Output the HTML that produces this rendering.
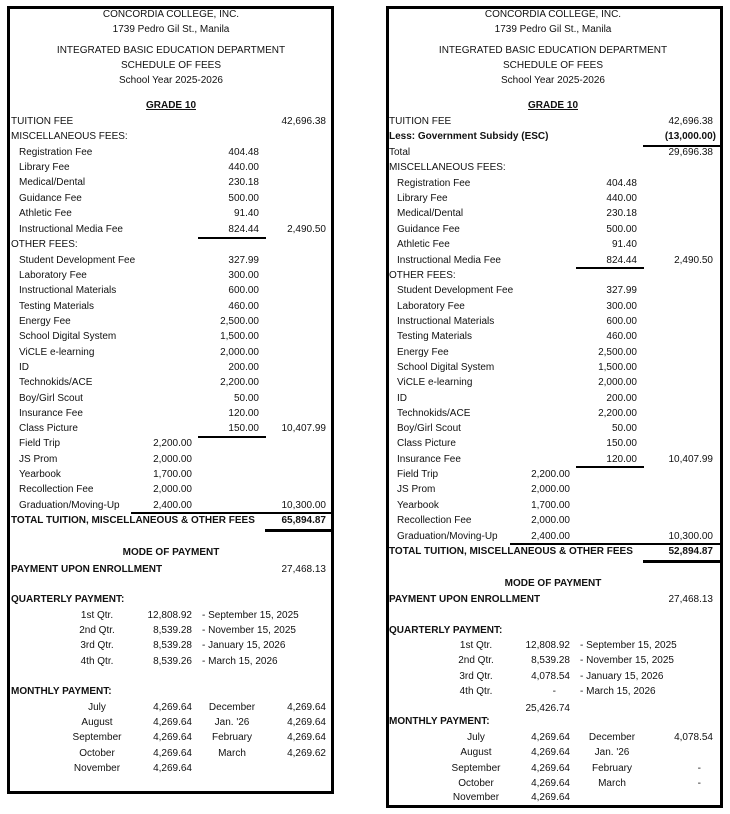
<!DOCTYPE html>
<html><head><meta charset="utf-8">
<style>
html,body{margin:0;padding:0;background:#fff;}
body{width:730px;height:814px;position:relative;overflow:hidden;font-family:"Liberation Sans",Arial,sans-serif;font-size:10px;color:#111;}
.b{position:absolute;border:3px solid #000;box-sizing:border-box;}
.t{position:absolute;line-height:14px;white-space:nowrap;}
.r{transform:translateX(-100%);}
.c{transform:translateX(-50%);}
.bd{font-weight:bold;}
.u{text-decoration:underline;}
.h{position:absolute;background:#000;}
</style></head><body>
<div class="b" style="left:7px;top:6px;width:327px;height:788px;"></div>
<div class="b" style="left:386px;top:6px;width:337px;height:802px;"></div>

<!-- LEFT -->
<div class="t c" style="left:171px;top:8px">CONCORDIA COLLEGE, INC.</div>
<div class="t c" style="left:171px;top:23px">1739 Pedro Gil St., Manila</div>
<div class="t c" style="left:171px;top:44px">INTEGRATED BASIC EDUCATION DEPARTMENT</div>
<div class="t c" style="left:171px;top:59px">SCHEDULE OF FEES</div>
<div class="t c" style="left:171px;top:74px">School Year 2025-2026</div>
<div class="t c bd u" style="left:171px;top:99px">GRADE 10</div>

<div class="t" style="left:11px;top:115px">TUITION FEE</div><div class="t r" style="left:326px;top:115px">42,696.38</div>
<div class="t" style="left:11px;top:130px">MISCELLANEOUS FEES:</div>
<div class="t" style="left:19px;top:146px">Registration Fee</div><div class="t r" style="left:259px;top:146px">404.48</div>
<div class="t" style="left:19px;top:161px">Library Fee</div><div class="t r" style="left:259px;top:161px">440.00</div>
<div class="t" style="left:19px;top:176px">Medical/Dental</div><div class="t r" style="left:259px;top:176px">230.18</div>
<div class="t" style="left:19px;top:192px">Guidance Fee</div><div class="t r" style="left:259px;top:192px">500.00</div>
<div class="t" style="left:19px;top:207px">Athletic Fee</div><div class="t r" style="left:259px;top:207px">91.40</div>
<div class="t" style="left:19px;top:223px">Instructional Media Fee</div><div class="t r" style="left:259px;top:223px">824.44</div><div class="t r" style="left:326px;top:223px">2,490.50</div>
<div class="h" style="left:198px;top:237px;width:68px;height:2px"></div>
<div class="t" style="left:11px;top:238px">OTHER FEES:</div>
<div class="t" style="left:19px;top:254px">Student Development Fee</div><div class="t r" style="left:259px;top:254px">327.99</div>
<div class="t" style="left:19px;top:269px">Laboratory Fee</div><div class="t r" style="left:259px;top:269px">300.00</div>
<div class="t" style="left:19px;top:284px">Instructional Materials</div><div class="t r" style="left:259px;top:284px">600.00</div>
<div class="t" style="left:19px;top:300px">Testing Materials</div><div class="t r" style="left:259px;top:300px">460.00</div>
<div class="t" style="left:19px;top:315px">Energy Fee</div><div class="t r" style="left:259px;top:315px">2,500.00</div>
<div class="t" style="left:19px;top:330px">School Digital System</div><div class="t r" style="left:259px;top:330px">1,500.00</div>
<div class="t" style="left:19px;top:346px">ViCLE e-learning</div><div class="t r" style="left:259px;top:346px">2,000.00</div>
<div class="t" style="left:19px;top:361px">ID</div><div class="t r" style="left:259px;top:361px">200.00</div>
<div class="t" style="left:19px;top:376px">Technokids/ACE</div><div class="t r" style="left:259px;top:376px">2,200.00</div>
<div class="t" style="left:19px;top:392px">Boy/Girl Scout</div><div class="t r" style="left:259px;top:392px">50.00</div>
<div class="t" style="left:19px;top:407px">Insurance Fee</div><div class="t r" style="left:259px;top:407px">120.00</div>
<div class="t" style="left:19px;top:422px">Class Picture</div><div class="t r" style="left:259px;top:422px">150.00</div><div class="t r" style="left:326px;top:422px">10,407.99</div>
<div class="h" style="left:198px;top:436px;width:68px;height:2px"></div>
<div class="t" style="left:19px;top:437px">Field Trip</div><div class="t r" style="left:192px;top:437px">2,200.00</div>
<div class="t" style="left:19px;top:453px">JS Prom</div><div class="t r" style="left:192px;top:453px">2,000.00</div>
<div class="t" style="left:19px;top:468px">Yearbook</div><div class="t r" style="left:192px;top:468px">1,700.00</div>
<div class="t" style="left:19px;top:483px">Recollection Fee</div><div class="t r" style="left:192px;top:483px">2,000.00</div>
<div class="t" style="left:19px;top:499px">Graduation/Moving-Up</div><div class="t r" style="left:192px;top:499px">2,400.00</div><div class="t r" style="left:326px;top:499px">10,300.00</div>
<div class="h" style="left:131px;top:512px;width:201px;height:2px"></div>
<div class="t bd" style="left:11px;top:514px">TOTAL TUITION, MISCELLANEOUS &amp; OTHER FEES</div><div class="t r bd" style="left:326px;top:514px">65,894.87</div>
<div class="h" style="left:265px;top:529px;width:67px;height:3px"></div>

<div class="t c bd" style="left:171px;top:546px">MODE OF PAYMENT</div>
<div class="t bd" style="left:11px;top:563px">PAYMENT UPON ENROLLMENT</div><div class="t r" style="left:326px;top:563px">27,468.13</div>
<div class="t bd" style="left:11px;top:593px">QUARTERLY PAYMENT:</div>
<div class="t c" style="left:97px;top:609px">1st Qtr.</div><div class="t r" style="left:192px;top:609px">12,808.92</div><div class="t" style="left:202px;top:609px">- September 15, 2025</div>
<div class="t c" style="left:97px;top:624px">2nd Qtr.</div><div class="t r" style="left:192px;top:624px">8,539.28</div><div class="t" style="left:202px;top:624px">- November 15, 2025</div>
<div class="t c" style="left:97px;top:639px">3rd Qtr.</div><div class="t r" style="left:192px;top:639px">8,539.28</div><div class="t" style="left:202px;top:639px">- January 15, 2026</div>
<div class="t c" style="left:97px;top:655px">4th Qtr.</div><div class="t r" style="left:192px;top:655px">8,539.26</div><div class="t" style="left:202px;top:655px">- March 15, 2026</div>
<div class="t bd" style="left:11px;top:685px">MONTHLY PAYMENT:</div>
<div class="t c" style="left:97px;top:701px">July</div><div class="t r" style="left:192px;top:701px">4,269.64</div><div class="t c" style="left:232px;top:701px">December</div><div class="t r" style="left:326px;top:701px">4,269.64</div>
<div class="t c" style="left:97px;top:716px">August</div><div class="t r" style="left:192px;top:716px">4,269.64</div><div class="t c" style="left:232px;top:716px">Jan. '26</div><div class="t r" style="left:326px;top:716px">4,269.64</div>
<div class="t c" style="left:97px;top:731px">September</div><div class="t r" style="left:192px;top:731px">4,269.64</div><div class="t c" style="left:232px;top:731px">February</div><div class="t r" style="left:326px;top:731px">4,269.64</div>
<div class="t c" style="left:97px;top:747px">October</div><div class="t r" style="left:192px;top:747px">4,269.64</div><div class="t c" style="left:232px;top:747px">March</div><div class="t r" style="left:326px;top:747px">4,269.62</div>
<div class="t c" style="left:97px;top:762px">November</div><div class="t r" style="left:192px;top:762px">4,269.64</div>

<!-- RIGHT -->
<div class="t c" style="left:553px;top:8px">CONCORDIA COLLEGE, INC.</div>
<div class="t c" style="left:553px;top:23px">1739 Pedro Gil St., Manila</div>
<div class="t c" style="left:553px;top:44px">INTEGRATED BASIC EDUCATION DEPARTMENT</div>
<div class="t c" style="left:553px;top:59px">SCHEDULE OF FEES</div>
<div class="t c" style="left:553px;top:74px">School Year 2025-2026</div>
<div class="t c bd u" style="left:553px;top:99px">GRADE 10</div>

<div class="t" style="left:389px;top:115px">TUITION FEE</div><div class="t r" style="left:713px;top:115px">42,696.38</div>
<div class="t bd" style="left:389px;top:130px">Less: Government Subsidy (ESC)</div><div class="t r bd" style="left:716px;top:130px">(13,000.00)</div>
<div class="h" style="left:643px;top:145px;width:77px;height:2px"></div>
<div class="t" style="left:389px;top:146px">Total</div><div class="t r" style="left:713px;top:146px">29,696.38</div>
<div class="t" style="left:389px;top:161px">MISCELLANEOUS FEES:</div>
<div class="t" style="left:397px;top:177px">Registration Fee</div><div class="t r" style="left:637px;top:177px">404.48</div>
<div class="t" style="left:397px;top:192px">Library Fee</div><div class="t r" style="left:637px;top:192px">440.00</div>
<div class="t" style="left:397px;top:207px">Medical/Dental</div><div class="t r" style="left:637px;top:207px">230.18</div>
<div class="t" style="left:397px;top:223px">Guidance Fee</div><div class="t r" style="left:637px;top:223px">500.00</div>
<div class="t" style="left:397px;top:238px">Athletic Fee</div><div class="t r" style="left:637px;top:238px">91.40</div>
<div class="t" style="left:397px;top:254px">Instructional Media Fee</div><div class="t r" style="left:637px;top:254px">824.44</div><div class="t r" style="left:713px;top:254px">2,490.50</div>
<div class="h" style="left:576px;top:267px;width:68px;height:2px"></div>
<div class="t" style="left:389px;top:269px">OTHER FEES:</div>
<div class="t" style="left:397px;top:284px">Student Development Fee</div><div class="t r" style="left:637px;top:284px">327.99</div>
<div class="t" style="left:397px;top:300px">Laboratory Fee</div><div class="t r" style="left:637px;top:300px">300.00</div>
<div class="t" style="left:397px;top:315px">Instructional Materials</div><div class="t r" style="left:637px;top:315px">600.00</div>
<div class="t" style="left:397px;top:330px">Testing Materials</div><div class="t r" style="left:637px;top:330px">460.00</div>
<div class="t" style="left:397px;top:346px">Energy Fee</div><div class="t r" style="left:637px;top:346px">2,500.00</div>
<div class="t" style="left:397px;top:361px">School Digital System</div><div class="t r" style="left:637px;top:361px">1,500.00</div>
<div class="t" style="left:397px;top:376px">ViCLE e-learning</div><div class="t r" style="left:637px;top:376px">2,000.00</div>
<div class="t" style="left:397px;top:392px">ID</div><div class="t r" style="left:637px;top:392px">200.00</div>
<div class="t" style="left:397px;top:407px">Technokids/ACE</div><div class="t r" style="left:637px;top:407px">2,200.00</div>
<div class="t" style="left:397px;top:422px">Boy/Girl Scout</div><div class="t r" style="left:637px;top:422px">50.00</div>
<div class="t" style="left:397px;top:437px">Class Picture</div><div class="t r" style="left:637px;top:437px">150.00</div>
<div class="t" style="left:397px;top:453px">Insurance Fee</div><div class="t r" style="left:637px;top:453px">120.00</div><div class="t r" style="left:713px;top:453px">10,407.99</div>
<div class="h" style="left:576px;top:466px;width:68px;height:2px"></div>
<div class="t" style="left:397px;top:468px">Field Trip</div><div class="t r" style="left:570px;top:468px">2,200.00</div>
<div class="t" style="left:397px;top:483px">JS Prom</div><div class="t r" style="left:570px;top:483px">2,000.00</div>
<div class="t" style="left:397px;top:499px">Yearbook</div><div class="t r" style="left:570px;top:499px">1,700.00</div>
<div class="t" style="left:397px;top:514px">Recollection Fee</div><div class="t r" style="left:570px;top:514px">2,000.00</div>
<div class="t" style="left:397px;top:530px">Graduation/Moving-Up</div><div class="t r" style="left:570px;top:530px">2,400.00</div><div class="t r" style="left:713px;top:530px">10,300.00</div>
<div class="h" style="left:510px;top:543px;width:210px;height:2px"></div>
<div class="t bd" style="left:389px;top:545px">TOTAL TUITION, MISCELLANEOUS &amp; OTHER FEES</div><div class="t r bd" style="left:713px;top:545px">52,894.87</div>
<div class="h" style="left:643px;top:560px;width:77px;height:3px"></div>

<div class="t c bd" style="left:553px;top:577px">MODE OF PAYMENT</div>
<div class="t bd" style="left:389px;top:593px">PAYMENT UPON ENROLLMENT</div><div class="t r" style="left:713px;top:593px">27,468.13</div>
<div class="t bd" style="left:389px;top:624px">QUARTERLY PAYMENT:</div>
<div class="t c" style="left:476px;top:639px">1st Qtr.</div><div class="t r" style="left:570px;top:639px">12,808.92</div><div class="t" style="left:580px;top:639px">- September 15, 2025</div>
<div class="t c" style="left:476px;top:654px">2nd Qtr.</div><div class="t r" style="left:570px;top:654px">8,539.28</div><div class="t" style="left:580px;top:654px">- November 15, 2025</div>
<div class="t c" style="left:476px;top:670px">3rd Qtr.</div><div class="t r" style="left:570px;top:670px">4,078.54</div><div class="t" style="left:580px;top:670px">- January 15, 2026</div>
<div class="t c" style="left:476px;top:685px">4th Qtr.</div><div class="t r" style="left:556px;top:685px">-</div><div class="t" style="left:580px;top:685px">- March 15, 2026</div>
<div class="t r" style="left:570px;top:702px">25,426.74</div>
<div class="t bd" style="left:389px;top:715px">MONTHLY PAYMENT:</div>
<div class="t c" style="left:476px;top:731px">July</div><div class="t r" style="left:570px;top:731px">4,269.64</div><div class="t c" style="left:612px;top:731px">December</div><div class="t r" style="left:713px;top:731px">4,078.54</div>
<div class="t c" style="left:476px;top:746px">August</div><div class="t r" style="left:570px;top:746px">4,269.64</div><div class="t c" style="left:612px;top:746px">Jan. '26</div>
<div class="t c" style="left:476px;top:762px">September</div><div class="t r" style="left:570px;top:762px">4,269.64</div><div class="t c" style="left:612px;top:762px">February</div><div class="t r" style="left:701px;top:762px">-</div>
<div class="t c" style="left:476px;top:777px">October</div><div class="t r" style="left:570px;top:777px">4,269.64</div><div class="t c" style="left:612px;top:777px">March</div><div class="t r" style="left:701px;top:777px">-</div>
<div class="t c" style="left:476px;top:791px">November</div><div class="t r" style="left:570px;top:791px">4,269.64</div>
</body></html>
